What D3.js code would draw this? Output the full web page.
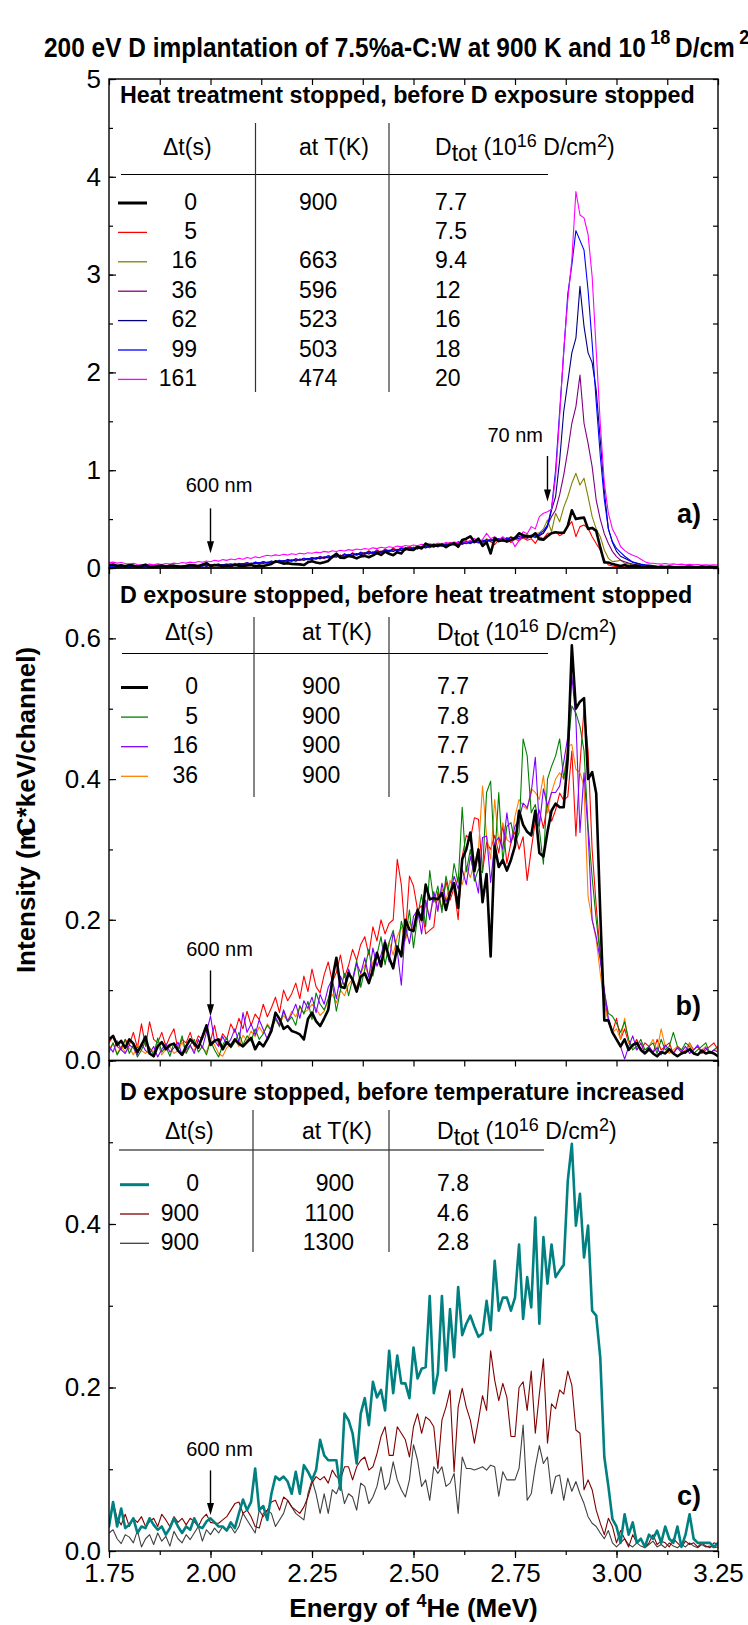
<!DOCTYPE html>
<html>
<head>
<meta charset="utf-8">
<script src="https://cdn.jsdelivr.net/npm/d3@7"></script>
<style>
  body { margin: 0; background: #fff; }
  svg { display: block; }
</style>
</head>
<body>
<svg id="chart" width="748" height="1625"></svg>
<script>
// Channel calibration of the RBS/NRA spectra: first channel energy and channel width (MeV)
const E0 = 1.75, dE = 0.01;

// Tick labels
const xTickValues = [1.75, 2.00, 2.25, 2.50, 2.75, 3.00, 3.25];
const yTicksA = [0, 1, 2, 3, 4, 5];
const yTicksB = [0.0, 0.2, 0.4, 0.6];
const yTicksC = [0.0, 0.2, 0.4];

// Legend table entries
const dtA = ["0", "5", "16", "36", "62", "99", "161"];
const tA  = ["900", "", "663", "596", "523", "503", "474"];
const dA  = ["7.7", "7.5", "9.4", "12", "16", "18", "20"];
const dtB = ["0", "5", "16", "36"];
const tB  = ["900", "900", "900", "900"];
const dB  = ["7.7", "7.8", "7.7", "7.5"];
const dtC = ["0", "900", "900"];
const tC  = ["900", "1100", "1300"];
const dC  = ["7.8", "4.6", "2.8"];

// 0 s after stop, 900 K, 7.7e16 D/cm2 (shown in panels a and b)
const spec0 = [
0.030,0.035,0.022,0.028,0.018,0.030,0.024,0.012,0.022,0.034,
0.010,0.006,0.020,0.026,0.016,0.022,0.024,0.014,0.008,0.020,
0.030,0.024,0.018,0.034,0.050,0.022,0.028,0.030,0.016,0.026,
0.020,0.030,0.024,0.020,0.026,0.032,0.016,0.026,0.020,0.030,
0.042,0.068,0.059,0.045,0.049,0.042,0.040,0.037,0.030,0.059,
0.068,0.056,0.049,0.060,0.072,0.115,0.146,0.105,0.103,0.124,
0.115,0.098,0.119,0.124,0.110,0.129,0.153,0.134,0.167,0.146,
0.131,0.162,0.148,0.200,0.186,0.184,0.214,0.200,0.250,0.229,
0.231,0.229,0.238,0.214,0.238,0.252,0.217,0.286,0.300,0.324,
0.269,0.300,0.225,0.265,0.148,0.305,0.275,0.285,0.270,0.285,
0.305,0.355,0.335,0.325,0.320,0.355,0.295,0.290,0.325,0.355,
0.365,0.360,0.360,0.430,0.590,0.500,0.510,0.515,0.400,0.410,
0.380,0.210,0.057,0.057,0.040,0.030,0.020,0.030,0.015,0.022,
0.025,0.015,0.010,0.016,0.010,0.006,0.012,0.010,0.016,0.010,
0.006,0.010,0.012,0.016,0.010,0.008,0.014,0.010,0.012,0.010,
0.006];

// Panel a: heat treatment stopped before D exposure stopped
const a5 = [
0.020,0.032,0.012,0.018,0.028,0.010,0.022,0.008,0.026,0.016,
0.022,0.010,0.030,0.014,0.018,0.034,0.012,0.024,0.016,0.028,
0.014,0.030,0.024,0.038,0.018,0.026,0.040,0.022,0.032,0.044,
0.030,0.048,0.026,0.044,0.056,0.034,0.060,0.046,0.064,0.050,
0.070,0.054,0.078,0.060,0.086,0.070,0.094,0.076,0.100,0.084,
0.108,0.090,0.120,0.098,0.126,0.108,0.136,0.114,0.146,0.122,
0.156,0.130,0.164,0.148,0.176,0.152,0.188,0.160,0.196,0.172,
0.204,0.180,0.212,0.196,0.222,0.200,0.230,0.208,0.240,0.218,
0.248,0.226,0.254,0.236,0.262,0.240,0.270,0.250,0.278,0.256,
0.282,0.262,0.250,0.292,0.268,0.238,0.290,0.274,0.300,0.260,
0.296,0.278,0.310,0.284,0.300,0.252,0.320,0.300,0.355,0.355,
0.372,0.330,0.355,0.423,0.474,0.320,0.423,0.440,0.406,0.320,
0.250,0.184,0.082,0.031,0.020,0.014,0.018,0.010,0.014,0.008,
0.006,0.010,0.014,0.008,0.004,0.012,0.006,0.010,0.004,0.008,
0.012,0.006,0.004,0.010,0.008,0.004,0.010,0.006,0.008,0.004,
0.006];

const a16 = [
0.010,0.018,0.008,0.022,0.014,0.006,0.020,0.012,0.016,0.024,
0.012,0.018,0.010,0.026,0.014,0.020,0.008,0.016,0.022,0.012,
0.024,0.016,0.030,0.020,0.026,0.034,0.022,0.030,0.018,0.036,
0.028,0.040,0.032,0.024,0.044,0.036,0.050,0.040,0.058,0.046,
0.054,0.068,0.060,0.076,0.064,0.082,0.070,0.088,0.078,0.094,
0.086,0.104,0.092,0.110,0.124,0.102,0.118,0.132,0.112,0.140,
0.128,0.146,0.136,0.158,0.144,0.166,0.150,0.174,0.160,0.184,
0.170,0.192,0.180,0.200,0.188,0.214,0.196,0.222,0.206,0.232,
0.218,0.240,0.226,0.252,0.232,0.262,0.244,0.272,0.254,0.282,
0.262,0.290,0.270,0.300,0.276,0.306,0.286,0.314,0.292,0.322,
0.300,0.330,0.312,0.342,0.320,0.354,0.360,0.400,0.490,0.372,
0.559,0.474,0.620,0.729,0.866,0.968,0.849,0.917,0.730,0.525,
0.400,0.320,0.184,0.099,0.065,0.070,0.082,0.048,0.040,0.030,
0.024,0.018,0.020,0.014,0.016,0.010,0.012,0.014,0.008,0.010,
0.012,0.008,0.010,0.006,0.010,0.008,0.012,0.006,0.008,0.010,
0.006];

const a36 = [
0.016,0.008,0.020,0.012,0.024,0.010,0.018,0.026,0.012,0.020,
0.014,0.024,0.010,0.020,0.016,0.012,0.026,0.018,0.014,0.022,
0.018,0.028,0.014,0.024,0.032,0.020,0.030,0.024,0.036,0.028,
0.038,0.030,0.044,0.034,0.048,0.040,0.054,0.044,0.060,0.050,
0.066,0.056,0.072,0.064,0.080,0.068,0.086,0.076,0.094,0.082,
0.100,0.090,0.108,0.096,0.116,0.104,0.126,0.112,0.134,0.120,
0.142,0.130,0.150,0.138,0.160,0.146,0.170,0.156,0.178,0.164,
0.186,0.172,0.196,0.180,0.204,0.190,0.212,0.198,0.222,0.206,
0.230,0.214,0.238,0.222,0.248,0.232,0.256,0.240,0.264,0.248,
0.272,0.256,0.280,0.264,0.288,0.270,0.296,0.278,0.304,0.286,
0.312,0.294,0.320,0.302,0.330,0.310,0.340,0.360,0.440,0.525,
0.593,0.750,0.950,1.200,1.480,1.650,1.973,1.480,1.275,1.036,
0.695,0.500,0.350,0.250,0.170,0.116,0.080,0.065,0.050,0.040,
0.030,0.024,0.020,0.016,0.018,0.012,0.014,0.010,0.012,0.008,
0.010,0.012,0.008,0.010,0.006,0.010,0.008,0.006,0.010,0.008,
0.006];

const a62 = [
0.012,0.020,0.010,0.016,0.008,0.022,0.014,0.018,0.010,0.024,
0.016,0.010,0.022,0.012,0.026,0.016,0.020,0.010,0.024,0.014,
0.026,0.018,0.022,0.030,0.016,0.034,0.026,0.020,0.036,0.030,
0.024,0.040,0.034,0.046,0.030,0.050,0.042,0.056,0.046,0.062,
0.052,0.070,0.058,0.076,0.066,0.084,0.072,0.092,0.080,0.098,
0.088,0.106,0.096,0.114,0.102,0.122,0.110,0.130,0.118,0.138,
0.126,0.148,0.134,0.156,0.144,0.164,0.152,0.172,0.160,0.182,
0.168,0.190,0.178,0.198,0.186,0.208,0.194,0.218,0.204,0.226,
0.212,0.236,0.222,0.244,0.230,0.252,0.240,0.262,0.248,0.270,
0.256,0.280,0.264,0.288,0.274,0.296,0.280,0.306,0.290,0.314,
0.298,0.322,0.308,0.332,0.318,0.344,0.330,0.356,0.420,0.593,
0.730,1.100,1.600,1.900,2.200,2.350,2.880,2.470,2.200,2.100,
1.820,1.310,0.790,0.400,0.260,0.170,0.120,0.100,0.080,0.060,
0.050,0.040,0.034,0.030,0.024,0.020,0.018,0.014,0.016,0.012,
0.010,0.014,0.010,0.008,0.012,0.010,0.008,0.010,0.006,0.008,
0.008];

const a99 = [
0.018,0.010,0.024,0.014,0.020,0.012,0.026,0.016,0.010,0.022,
0.018,0.026,0.012,0.020,0.014,0.028,0.018,0.022,0.012,0.026,
0.020,0.030,0.024,0.018,0.034,0.026,0.032,0.040,0.024,0.034,
0.044,0.030,0.048,0.038,0.054,0.042,0.060,0.050,0.066,0.054,
0.072,0.062,0.078,0.068,0.088,0.074,0.094,0.082,0.100,0.090,
0.108,0.096,0.116,0.104,0.124,0.112,0.132,0.120,0.142,0.128,
0.150,0.136,0.158,0.146,0.168,0.154,0.176,0.162,0.186,0.170,
0.194,0.180,0.202,0.188,0.212,0.196,0.220,0.206,0.228,0.214,
0.236,0.222,0.246,0.230,0.254,0.238,0.262,0.246,0.272,0.254,
0.278,0.262,0.286,0.270,0.294,0.278,0.302,0.286,0.310,0.294,
0.318,0.302,0.328,0.312,0.338,0.322,0.350,0.380,0.440,0.610,
1.000,1.600,2.200,2.800,3.100,3.450,3.350,3.250,2.840,2.300,
1.700,1.150,0.700,0.400,0.270,0.200,0.160,0.120,0.090,0.060,
0.046,0.036,0.030,0.024,0.020,0.016,0.018,0.012,0.014,0.010,
0.012,0.008,0.010,0.012,0.008,0.010,0.006,0.010,0.008,0.006,
0.008];

const a161 = [
0.055,0.060,0.050,0.056,0.046,0.040,0.048,0.036,0.030,0.034,
0.040,0.032,0.042,0.036,0.046,0.040,0.050,0.044,0.056,0.050,
0.060,0.054,0.066,0.058,0.072,0.064,0.080,0.070,0.086,0.078,
0.092,0.084,0.100,0.090,0.108,0.098,0.114,0.104,0.120,0.130,
0.122,0.134,0.128,0.140,0.132,0.146,0.138,0.150,0.144,0.156,
0.150,0.162,0.156,0.170,0.162,0.176,0.168,0.182,0.174,0.188,
0.180,0.194,0.186,0.200,0.192,0.206,0.198,0.212,0.204,0.218,
0.210,0.224,0.216,0.230,0.222,0.236,0.228,0.242,0.234,0.248,
0.240,0.254,0.246,0.260,0.252,0.266,0.258,0.272,0.264,0.280,
0.303,0.270,0.290,0.355,0.300,0.320,0.290,0.320,0.269,0.300,
0.218,0.280,0.372,0.350,0.423,0.400,0.525,0.560,0.576,0.600,
0.930,1.550,2.230,2.740,3.150,3.850,3.610,3.580,3.410,2.980,
2.230,1.480,0.870,0.560,0.400,0.320,0.220,0.180,0.150,0.130,
0.116,0.090,0.065,0.050,0.048,0.044,0.040,0.046,0.038,0.042,
0.036,0.040,0.034,0.038,0.032,0.036,0.030,0.034,0.030,0.032,
0.030];

// Panel b: D exposure stopped before heat treatment stopped
const b5 = [
0.012,0.025,0.008,0.018,0.030,0.010,0.022,0.005,0.015,0.028,
0.018,0.008,0.032,0.012,0.020,0.006,0.025,0.015,0.035,0.010,
0.022,0.030,0.012,0.020,0.008,0.028,0.015,0.005,0.022,0.032,
0.018,0.026,0.040,0.022,0.035,0.028,0.045,0.030,0.038,0.050,
0.042,0.060,0.048,0.070,0.055,0.062,0.050,0.078,0.066,0.084,
0.058,0.096,0.080,0.072,0.088,0.110,0.070,0.100,0.124,0.092,
0.116,0.142,0.104,0.130,0.158,0.120,0.150,0.176,0.136,0.168,
0.185,0.150,0.198,0.174,0.214,0.160,0.204,0.236,0.190,0.270,
0.225,0.248,0.210,0.262,0.234,0.280,0.252,0.360,0.268,0.300,
0.255,0.272,0.267,0.381,0.397,0.286,0.381,0.283,0.333,0.338,
0.309,0.324,0.457,0.433,0.352,0.364,0.328,0.279,0.400,0.418,
0.433,0.457,0.400,0.440,0.504,0.494,0.475,0.440,0.333,0.260,
0.200,0.150,0.096,0.067,0.063,0.053,0.040,0.055,0.030,0.015,
0.020,0.030,0.015,0.020,0.025,0.010,0.030,0.015,0.020,0.040,
0.020,0.015,0.025,0.020,0.010,0.015,0.020,0.025,0.010,0.015,
0.020];

const b16 = [
0.020,0.012,0.028,0.015,0.010,0.022,0.018,0.008,0.025,0.014,
0.010,0.020,0.005,0.016,0.024,0.012,0.018,0.026,0.008,0.015,
0.022,0.010,0.030,0.018,0.040,0.063,0.028,0.020,0.034,0.022,
0.030,0.045,0.026,0.068,0.040,0.052,0.036,0.058,0.044,0.030,
0.048,0.062,0.050,0.072,0.056,0.066,0.080,0.060,0.085,0.074,
0.090,0.068,0.094,0.080,0.104,0.115,0.088,0.120,0.106,0.130,
0.112,0.138,0.124,0.146,0.118,0.160,0.134,0.150,0.172,0.140,
0.182,0.156,0.107,0.190,0.166,0.205,0.214,0.180,0.228,0.200,
0.240,0.212,0.252,0.226,0.236,0.262,0.244,0.272,0.250,0.290,
0.264,0.238,0.317,0.319,0.253,0.309,0.317,0.300,0.352,0.309,
0.333,0.343,0.366,0.359,0.381,0.431,0.333,0.386,0.362,0.381,
0.381,0.390,0.424,0.460,0.547,0.485,0.324,0.409,0.324,0.200,
0.176,0.143,0.100,0.060,0.040,0.030,0.020,0.002,0.020,0.035,
0.015,0.025,0.010,0.020,0.012,0.018,0.008,0.022,0.015,0.010,
0.018,0.012,0.020,0.010,0.015,0.022,0.012,0.018,0.010,0.015,
0.012];

const b36 = [
0.015,0.025,0.010,0.020,0.012,0.018,0.008,0.022,0.014,0.010,
0.018,0.012,0.024,0.008,0.016,0.020,0.010,0.014,0.026,0.012,
0.020,0.014,0.028,0.018,0.012,0.030,0.022,0.010,0.006,0.018,
0.024,0.030,0.020,0.036,0.028,0.042,0.034,0.048,0.038,0.052,
0.044,0.058,0.050,0.064,0.056,0.070,0.062,0.076,0.068,0.072,
0.080,0.074,0.064,0.070,0.086,0.094,0.082,0.100,0.092,0.108,
0.116,0.104,0.124,0.136,0.120,0.140,0.150,0.132,0.156,0.168,
0.150,0.176,0.190,0.170,0.198,0.184,0.210,0.196,0.222,0.206,
0.230,0.218,0.244,0.226,0.256,0.240,0.262,0.250,0.276,0.260,
0.282,0.300,0.390,0.319,0.286,0.371,0.309,0.338,0.314,0.309,
0.347,0.371,0.362,0.357,0.386,0.381,0.371,0.405,0.352,0.381,
0.400,0.409,0.400,0.447,0.449,0.414,0.409,0.390,0.233,0.200,
0.172,0.124,0.080,0.055,0.040,0.045,0.030,0.060,0.025,0.020,
0.015,0.025,0.010,0.020,0.030,0.015,0.045,0.020,0.010,0.015,
0.020,0.010,0.015,0.025,0.012,0.008,0.015,0.020,0.010,0.015,
0.015];

const bExtra = [
0.025,0.035,0.020,0.015,0.030,0.022,0.040,0.018,0.052,0.020,
0.055,0.030,0.025,0.040,0.020,0.034,0.045,0.015,0.030,0.025,
0.040,0.020,0.035,0.030,0.045,0.028,0.050,0.022,0.038,0.030,
0.052,0.040,0.060,0.045,0.070,0.050,0.066,0.058,0.080,0.062,
0.075,0.090,0.068,0.100,0.085,0.095,0.110,0.088,0.120,0.098,
0.130,0.105,0.096,0.122,0.140,0.112,0.125,0.150,0.118,0.135,
0.158,0.142,0.165,0.176,0.150,0.190,0.170,0.200,0.180,0.195,
0.200,0.286,0.250,0.177,0.262,0.248,0.214,0.220,0.180,0.185,
0.190,0.240,0.215,0.255,0.228,0.245,0.200,0.290,0.320,0.314,
0.345,0.343,0.268,0.310,0.300,0.320,0.295,0.335,0.280,0.310,
0.325,0.300,0.318,0.256,0.300,0.340,0.356,0.330,0.364,0.340,
0.356,0.380,0.370,0.375,0.440,0.319,0.420,0.500,0.440,0.300,
0.220,0.150,0.090,0.055,0.040,0.060,0.030,0.045,0.025,0.020,
0.030,0.015,0.025,0.020,0.010,0.030,0.015,0.020,0.025,0.010,
0.020,0.015,0.010,0.025,0.015,0.020,0.010,0.015,0.020,0.025,
0.015];

// Panel c: D exposure stopped before temperature increased
const c0 = [
0.030,0.060,0.030,0.052,0.028,0.032,0.040,0.022,0.030,0.028,
0.040,0.032,0.026,0.030,0.020,0.028,0.040,0.030,0.022,0.030,
0.026,0.040,0.030,0.028,0.036,0.040,0.035,0.030,0.030,0.025,
0.035,0.028,0.046,0.063,0.050,0.060,0.101,0.050,0.055,0.038,
0.070,0.091,0.087,0.091,0.085,0.070,0.097,0.070,0.105,0.097,
0.087,0.099,0.136,0.117,0.111,0.111,0.111,0.075,0.168,0.160,
0.144,0.107,0.168,0.187,0.154,0.207,0.188,0.197,0.172,0.245,
0.193,0.239,0.205,0.205,0.187,0.249,0.211,0.223,0.225,0.312,
0.193,0.217,0.312,0.221,0.296,0.237,0.323,0.264,0.278,0.288,
0.274,0.262,0.266,0.306,0.270,0.355,0.294,0.310,0.310,0.294,
0.310,0.375,0.284,0.335,0.298,0.408,0.278,0.384,0.327,0.375,
0.335,0.343,0.350,0.453,0.498,0.398,0.437,0.359,0.398,0.294,
0.288,0.237,0.115,0.079,0.039,0.030,0.010,0.045,0.020,0.035,
0.010,0.015,0.005,0.020,0.015,0.025,0.010,0.030,0.015,0.010,
0.030,0.005,0.020,0.045,0.015,0.010,0.010,0.010,0.010,0.005,
0.010];

const c1100 = [
0.030,0.060,0.040,0.032,0.045,0.030,0.040,0.035,0.042,0.030,
0.036,0.040,0.030,0.045,0.038,0.030,0.042,0.035,0.040,0.032,
0.040,0.036,0.030,0.040,0.045,0.035,0.034,0.034,0.038,0.042,
0.050,0.058,0.060,0.046,0.050,0.042,0.030,0.028,0.046,0.050,
0.060,0.062,0.050,0.066,0.062,0.054,0.050,0.046,0.054,0.066,
0.083,0.091,0.087,0.091,0.083,0.099,0.091,0.087,0.103,0.103,
0.087,0.103,0.111,0.115,0.099,0.103,0.119,0.140,0.152,0.117,
0.117,0.152,0.144,0.136,0.115,0.152,0.168,0.144,0.164,0.160,
0.152,0.101,0.160,0.176,0.197,0.097,0.176,0.199,0.176,0.160,
0.132,0.160,0.190,0.172,0.245,0.209,0.184,0.205,0.188,0.140,
0.140,0.200,0.207,0.172,0.220,0.144,0.192,0.235,0.132,0.180,
0.174,0.197,0.192,0.220,0.203,0.148,0.144,0.075,0.087,0.075,
0.050,0.034,0.020,0.040,0.030,0.010,0.025,0.015,0.005,0.020,
0.010,0.015,0.005,0.010,0.020,0.008,0.012,0.010,0.005,0.015,
0.010,0.005,0.012,0.008,0.010,0.005,0.010,0.006,0.004,0.010,
0.008];

const c1300 = [
0.022,0.026,0.015,0.009,0.020,0.017,0.010,0.025,0.005,0.015,
0.020,0.008,0.022,0.012,0.018,0.006,0.024,0.015,0.010,0.020,
0.014,0.022,0.030,0.012,0.026,0.020,0.028,0.022,0.030,0.026,
0.030,0.022,0.030,0.046,0.038,0.030,0.022,0.050,0.042,0.050,
0.046,0.030,0.038,0.046,0.062,0.054,0.046,0.042,0.038,0.070,
0.087,0.070,0.046,0.070,0.046,0.075,0.070,0.083,0.058,0.070,
0.066,0.050,0.083,0.079,0.058,0.066,0.079,0.103,0.075,0.083,
0.109,0.087,0.075,0.066,0.087,0.130,0.111,0.079,0.087,0.062,
0.103,0.095,0.103,0.079,0.083,0.095,0.046,0.115,0.101,0.101,
0.099,0.101,0.103,0.099,0.105,0.103,0.067,0.097,0.087,0.087,
0.087,0.101,0.154,0.062,0.070,0.103,0.129,0.107,0.115,0.070,
0.091,0.093,0.062,0.089,0.073,0.085,0.070,0.058,0.042,0.034,
0.030,0.022,0.015,0.025,0.010,0.005,0.010,0.015,0.008,0.005,
0.010,0.006,0.004,0.008,0.012,0.005,0.008,0.004,0.010,0.006,
0.004,0.008,0.005,0.010,0.006,0.004,0.008,0.005,0.006,0.004,
0.005];

// ---------------------------------------------------------------------------
const FONT = '"Liberation Sans", Arial, Helvetica, sans-serif';
const svg = d3.select("#chart");
const L = 109, R = 718;
const x = d3.scaleLinear().domain([1.75, 3.25]).range([L, R]);

const THIN = 1.1, THICK = 2.6;

const panels = [
  {
    id: "a", top: 79, bottom: 568, ymax: 5, minorStep: 0.5,
    majors: yTicksA, fmt: d3.format("d"),
    header: "Heat treatment stopped, before D exposure stopped", headerY: 103,
    series: [
      { v: a5,   c: "#ff0000", w: THIN },
      { v: a16,  c: "#808000", w: THIN },
      { v: a36,  c: "#800080", w: THIN },
      { v: a62,  c: "#000080", w: THIN },
      { v: a99,  c: "#0000ff", w: THIN },
      { v: a161, c: "#ff00ff", w: THIN },
      { v: spec0, c: "#000000", w: THICK }
    ],
    legend: {
      rows: dtA.map((d, i) => ({ dt: d, t: tA[i], d: dA[i] })),
      colors: ["#000000", "#ff0000", "#808000", "#800080", "#000080", "#0000ff", "#ff00ff"],
      widths: [THICK + 0.4, 1.3, 1.3, 1.3, 1.3, 1.3, 1.3],
      hdrY: 155, hline: [121, 548, 174.5], vx: [255.5, 389], vTop: 123, vBottom: 392,
      row0: 203, step: 29.4, sample: [118, 147], dtRight: 197,
      tX: 299, tAnchor: "start", dX: 435, hdrDt: 163, hdrT: 299
    },
    arrows: [
      { E: 2.0, tail: 0.61, tip: 0.15, text: "600 nm", ty: 0.78, tx: 219, anchor: "middle" },
      { E: 2.83, tail: 1.145, tip: 0.68, text: "70 nm", ty: 1.29, tx: 543, anchor: "end" }
    ],
    tag: "a)", tagY: 523
  },
  {
    id: "b", top: 568, bottom: 1060.5, ymax: 0.7, minorStep: 0.1,
    majors: yTicksB, fmt: d3.format(".1f"),
    header: "D exposure stopped, before heat treatment stopped", headerY: 603,
    series: [
      { v: bExtra, c: "#ff0000", w: THIN },
      { v: b36, c: "#ff8000", w: THIN },
      { v: b5,  c: "#008000", w: THIN },
      { v: b16, c: "#8000ff", w: THIN },
      { v: spec0, c: "#000000", w: THICK }
    ],
    legend: {
      rows: dtB.map((d, i) => ({ dt: d, t: tB[i], d: dB[i] })),
      colors: ["#000000", "#008000", "#8000ff", "#ff8000"],
      widths: [THICK + 0.4, 1.3, 1.3, 1.3],
      hdrY: 640, hline: [122, 548, 653.5], vx: [254, 389], vTop: 617, vBottom: 797,
      row0: 687.5, step: 29.6, sample: [121, 148], dtRight: 198,
      tX: 302, tAnchor: "start", dX: 437, hdrDt: 165, hdrT: 302
    },
    arrows: [
      { E: 2.0, tail: 0.128, tip: 0.063, text: "600 nm", ty: 0.148, tx: 219.5, anchor: "middle" }
    ],
    tag: "b)", tagY: 1015
  },
  {
    id: "c", top: 1060.5, bottom: 1551, ymax: 0.6, minorStep: 0.1,
    majors: yTicksC, fmt: d3.format(".1f"),
    header: "D exposure stopped, before temperature increased", headerY: 1100,
    series: [
      { v: c1300, c: "#404040", w: THIN },
      { v: c1100, c: "#800000", w: THIN },
      { v: c0,    c: "#008080", w: THICK }
    ],
    legend: {
      rows: dtC.map((d, i) => ({ dt: d, t: tC[i], d: dC[i] })),
      colors: ["#008080", "#800000", "#404040"],
      widths: [THICK + 0.4, 1.3, 1.3],
      hdrY: 1138.5, hline: [119, 544, 1150], vx: [253, 389], vTop: 1110, vBottom: 1252,
      row0: 1184.7, step: 29.3, sample: [120, 149], dtRight: 199,
      tX: 354, tAnchor: "end", dX: 437, hdrDt: 165, hdrT: 302
    },
    arrows: [
      { E: 2.0, tail: 0.0986, tip: 0.044, text: "600 nm", ty: 0.1166, tx: 219.5, anchor: "middle" }
    ],
    tag: "c)", tagY: 1505
  }
];

const xMinor = d3.range(1.75, 3.2501, 0.125);

panels.forEach((p, pi) => {
  const y = d3.scaleLinear().domain([0, p.ymax]).range([p.bottom, p.top]);
  const g = svg.append("g").attr("class", "panel-" + p.id);

  // data lines, clipped to the frame
  const clipId = "clip-" + p.id;
  svg.append("clipPath").attr("id", clipId)
    .append("rect").attr("x", L).attr("y", p.top).attr("width", R - L).attr("height", p.bottom - p.top);
  const line = d3.line().x((v, i) => x(E0 + i * dE)).y(v => y(v)).curve(d3.curveLinear);
  const lines = g.append("g").attr("clip-path", `url(#${clipId})`);
  p.series.forEach(s => {
    lines.append("path").attr("d", line(s.v)).attr("fill", "none")
      .attr("stroke", s.c).attr("stroke-width", s.w)
      .attr("stroke-linejoin", "round").attr("stroke-linecap", "round");
  });

  // left axis (inward ticks) with labels
  const yMinorVals = d3.range(0, p.ymax + 1e-9, p.minorStep).map(v => +v.toFixed(3));
  const left = g.append("g").attr("transform", `translate(${L},0)`)
    .call(d3.axisLeft(y).tickValues(p.majors).tickFormat(p.fmt).tickSizeInner(-7).tickSizeOuter(0).tickPadding(8));
  left.select(".domain").remove();
  left.selectAll("text").attr("font-family", FONT).attr("font-size", 26).attr("fill", "#000");
  left.selectAll("line").attr("stroke-width", 1.2);
  const leftMinor = g.append("g").attr("transform", `translate(${L},0)`)
    .call(d3.axisLeft(y).tickValues(yMinorVals).tickFormat("").tickSizeInner(-4).tickSizeOuter(0));
  leftMinor.select(".domain").remove();
  leftMinor.selectAll("line").attr("stroke-width", 1.2);

  // right axis
  const right = g.append("g").attr("transform", `translate(${R},0)`)
    .call(d3.axisRight(y).tickValues(yMinorVals).tickFormat("").tickSizeInner(-5).tickSizeOuter(0));
  right.select(".domain").remove();
  right.selectAll("line").attr("stroke-width", 1.2);

  // top axis (inward)
  const top = g.append("g").attr("transform", `translate(0,${p.top})`)
    .call(d3.axisTop(x).tickValues(xMinor).tickFormat("").tickSizeInner(-6).tickSizeOuter(0));
  top.select(".domain").remove();
  top.selectAll("line").attr("stroke-width", 1.2);

  // frame
  g.append("rect").attr("x", L).attr("y", p.top).attr("width", R - L).attr("height", p.bottom - p.top)
    .attr("fill", "none").attr("stroke", "#000").attr("stroke-width", 1.4);

  // panel header
  g.append("text").attr("x", 120).attr("y", p.headerY)
    .attr("font-family", FONT).attr("font-weight", "bold").attr("font-size", 23.3)
    .text(p.header);

  // legend table
  const lg = p.legend;
  const tg = g.append("g").attr("font-family", FONT).attr("font-size", 23).attr("fill", "#000");
  tg.append("text").attr("x", lg.hdrDt).attr("y", lg.hdrY).text("\u0394t(s)");
  tg.append("text").attr("x", lg.hdrT).attr("y", lg.hdrY).text("at T(K)");
  const dh = tg.append("text").attr("x", lg.dX).attr("y", lg.hdrY);
  dh.append("tspan").text("D");
  dh.append("tspan").attr("dy", 6).text("tot");
  dh.append("tspan").attr("dy", -6).text(" (10");
  dh.append("tspan").attr("dy", -8).attr("font-size", 18).text("16");
  dh.append("tspan").attr("dy", 8).text(" D/cm");
  dh.append("tspan").attr("dy", -8).attr("font-size", 18).text("2");
  dh.append("tspan").attr("dy", 8).text(")");
  tg.append("line").attr("x1", lg.hline[0]).attr("x2", lg.hline[1])
    .attr("y1", lg.hline[2]).attr("y2", lg.hline[2]).attr("stroke", "#000").attr("stroke-width", 1.2);
  lg.vx.forEach(vx => tg.append("line").attr("x1", vx).attr("x2", vx)
    .attr("y1", lg.vTop).attr("y2", lg.vBottom).attr("stroke", "#333").attr("stroke-width", 1.2));
  lg.rows.forEach((r, i) => {
    const yy = lg.row0 + i * lg.step;
    tg.append("line").attr("x1", lg.sample[0]).attr("x2", lg.sample[1]).attr("y1", yy).attr("y2", yy)
      .attr("stroke", lg.colors[i]).attr("stroke-width", lg.widths[i]);
    tg.append("text").attr("x", lg.dtRight).attr("y", yy + 6.5).attr("text-anchor", "end").text(r.dt);
    if (r.t) tg.append("text").attr("x", lg.tX).attr("y", yy + 6.5).attr("text-anchor", lg.tAnchor).text(r.t);
    tg.append("text").attr("x", lg.dX).attr("y", yy + 6.5).text(r.d);
  });

  // depth markers
  p.arrows.forEach(a => {
    const ax = x(a.E), y1 = y(a.tail), y2 = y(a.tip);
    g.append("line").attr("x1", ax).attr("x2", ax).attr("y1", y1).attr("y2", y2 - 8)
      .attr("stroke", "#000").attr("stroke-width", 1.4);
    g.append("path").attr("d", `M${ax - 3.5},${y2 - 12}L${ax + 3.5},${y2 - 12}L${ax},${y2}Z`).attr("fill", "#000");
    g.append("text").attr("x", a.tx).attr("y", y(a.ty)).attr("text-anchor", a.anchor)
      .attr("font-family", FONT).attr("font-size", 20).text(a.text);
  });

  // panel tag
  g.append("text").attr("x", 701).attr("y", p.tagY).attr("text-anchor", "end")
    .attr("font-family", FONT).attr("font-weight", "bold").attr("font-size", 27).text(p.tag);

  // bottom energy axis on the last panel
  if (pi === panels.length - 1) {
    const bottom = g.append("g").attr("transform", `translate(0,${p.bottom})`)
      .call(d3.axisBottom(x).tickValues(xTickValues).tickFormat(d3.format(".2f")).tickSizeInner(7).tickSizeOuter(0).tickPadding(6));
    bottom.select(".domain").remove();
    bottom.selectAll("text").attr("font-family", FONT).attr("font-size", 26).attr("fill", "#000");
    bottom.selectAll("line").attr("stroke-width", 1.2);
    const bMinor = g.append("g").attr("transform", `translate(0,${p.bottom})`)
      .call(d3.axisBottom(x).tickValues(xMinor).tickFormat("").tickSizeInner(4).tickSizeOuter(0));
    bMinor.select(".domain").remove();
    bMinor.selectAll("line").attr("stroke-width", 1.2);
  }
});

// chart title, condensed horizontally to a narrow bold face
const titleG = svg.append("g");
const title = titleG.append("text").attr("x", 0).attr("y", 0)
  .attr("font-family", FONT).attr("font-weight", "bold").attr("font-size", 27);
title.append("tspan").text("200 eV D implantation of 7.5%a-C:W at 900 K and 10");
title.append("tspan").attr("dx", 5).attr("dy", -13).attr("font-size", 20).text("18");
title.append("tspan").attr("dx", 5).attr("dy", 13).text("D/cm");
title.append("tspan").attr("dx", 5).attr("dy", -13).attr("font-size", 20).text("2");
const titleX0 = 44, titleWidth = 692, titleBase = 57;
const tw = title.node().getComputedTextLength();
titleG.attr("transform", `translate(${titleX0},${titleBase}) scale(${titleWidth / tw},1)`);

// axis titles
const xt = svg.append("text").attr("x", (L + R) / 2).attr("y", 1617).attr("text-anchor", "middle")
  .attr("font-family", FONT).attr("font-weight", "bold").attr("font-size", 26);
xt.append("tspan").text("Energy of ");
xt.append("tspan").attr("dy", -10).attr("font-size", 18).text("4");
xt.append("tspan").attr("dy", 10).text("He (MeV)");

const yt = svg.append("text").attr("transform", "translate(35,810) rotate(-90)").attr("text-anchor", "middle")
  .attr("font-family", FONT).attr("font-weight", "bold").attr("font-size", 26);
yt.append("tspan").text("Intensity (m");
yt.append("tspan").attr("dx", -9).text("C*keV/channel)");
</script>
</body>
</html>
